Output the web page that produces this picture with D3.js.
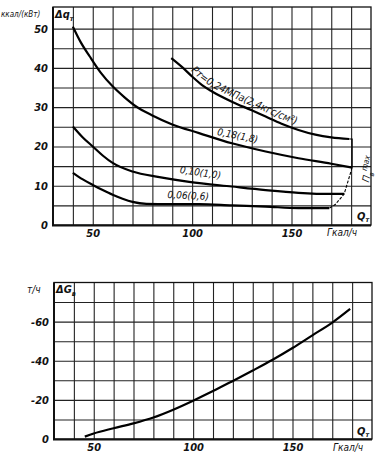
<!DOCTYPE html>
<html>
<head>
<meta charset="utf-8">
<script src="https://cdn.jsdelivr.net/npm/d3@7"></script>
<style>
  body { margin: 0; background: #fff; }
  text { font-family: "Liberation Sans Narrow", "DejaVu Sans Condensed", sans-serif; font-style: italic; fill: #111; }
</style>
</head>
<body>
<div id="chart"></div>
<script>
// ---- data ----
// top chart: heat-rate increase dq_t vs Q_t for several extraction pressures
var curve024 = [[89.5,42.5],[95,40.2],[100,37.8],[105,35.6],[110,34.0],[120,31.4],[130,29.2],[137,27.6],[145,25.8],[153.5,24.2],[162,23.0],[170,22.3],[179,21.9]];
var curve018 = [[40,50.5],[44,46.5],[48.5,42.9],[54,38.8],[60,35.3],[66,32.5],[72,30.1],[80,27.9],[90,25.6],[103.5,23.4],[120,20.8],[137,18.7],[153.5,17.0],[170,15.6],[180.5,14.6]];
var curve010 = [[40,25.1],[45,22.3],[50,20.0],[55,17.7],[60,15.8],[70,13.6],[83.5,12.2],[98.5,11.0],[120,9.8],[137,8.9],[153.5,8.2],[170,7.9],[176.5,7.9]];
var curve006 = [[40,13.3],[45,11.6],[50,10.2],[55,8.9],[60,7.7],[65,6.7],[70,5.9],[77,5.4],[88.5,5.3],[103.5,5.3],[120,5.0],[137,4.7],[153.5,4.3],[169,4.3]];
var boundaryTop = [[179,21.9],[180.5,21.9],[180.5,14.6]];
var boundaryMax = [[180.5,14.6],[176.5,7.9],[172,5.2],[169,4.3]];
var curveLabels = ["Pт=0,24МПа(2,4кгс/см²)", "0,18(1,8)", "0,10(1,0)", "0,06(0,6)"];

// bottom chart: steam flow change dG_v vs Q_t
var flowQ  = [45.5, 50, 60, 70, 80, 90, 100, 110, 120, 130, 140, 150, 160, 170, 179];
var flowDG = [1.2, 2.8, 5.5, 8.0, 11.0, 15.0, 19.6, 24.5, 29.7, 35.0, 40.5, 46.5, 53.0, 59.5, 66.5];

var xTicks = [50, 100, 150];
var gridX = [40, 50, 60, 70, 80, 90, 100, 110, 120, 130, 140, 150, 160, 170, 180];
var topYTicks = [0, 10, 20, 30, 40, 50];
var topGridY = [5, 10, 15, 20, 25, 30, 35, 40, 45, 50];
var botYTicks = [0, 20, 40, 60];
var botGridY = [10, 20, 30, 40, 50, 60, 70];

var tickFont = "'Liberation Sans Narrow','DejaVu Sans Condensed',sans-serif";

var svg = d3.select("#chart").append("svg")
  .attr("width", 382)
  .attr("height", 456)
  .style("background", "#fff");

// ---------- top chart ----------
var x1 = d3.scaleLinear().domain([30, 190]).range([53, 371]);
var y1 = d3.scaleLinear().domain([0, 55.5]).range([225, 7]);

var topG = svg.append("g");

// grid
topG.append("g")
  .attr("transform", "translate(0,225)")
  .call(d3.axisBottom(x1).tickValues(gridX).tickSize(-218).tickFormat(""))
  .call(g => g.select(".domain").remove())
  .selectAll("line").attr("stroke", "#222").attr("stroke-width", 1.1);
topG.append("g")
  .attr("transform", "translate(53,0)")
  .call(d3.axisLeft(y1).tickValues(topGridY).tickSize(-318).tickFormat(""))
  .call(g => g.select(".domain").remove())
  .selectAll("line").attr("stroke", "#222").attr("stroke-width", 1.1);

// frame
topG.append("rect")
  .attr("x", 53).attr("y", 7).attr("width", 318).attr("height", 218)
  .attr("fill", "none").attr("stroke", "#111").attr("stroke-width", 1.3);
topG.append("line").attr("x1", 53).attr("x2", 53).attr("y1", 7).attr("y2", 226)
  .attr("stroke", "#111").attr("stroke-width", 2);
topG.append("line").attr("x1", 52).attr("x2", 371).attr("y1", 225.5).attr("y2", 225.5)
  .attr("stroke", "#111").attr("stroke-width", 2);

// tick labels
topG.append("g")
  .attr("transform", "translate(53,0)")
  .call(d3.axisLeft(y1).tickValues(topYTicks).tickSize(0).tickPadding(5))
  .call(g => g.select(".domain").remove())
  .selectAll("text").attr("font-size", 11).attr("font-weight", "bold")
  .attr("font-family", tickFont);
topG.append("g")
  .attr("transform", "translate(0,226)")
  .call(d3.axisBottom(x1).tickValues(xTicks).tickSize(0).tickPadding(3))
  .call(g => g.select(".domain").remove())
  .selectAll("text").attr("font-size", 11).attr("font-weight", "bold")
  .attr("font-family", tickFont);

var line1 = d3.line()
  .x(d => x1(d[0]))
  .y(d => y1(d[1]))
  .curve(d3.curveMonotoneX);

[curve024, curve018, curve010, curve006].forEach(function(c) {
  topG.append("path").datum(c)
    .attr("d", line1)
    .attr("fill", "none").attr("stroke", "#000").attr("stroke-width", 2.2);
});

var straight1 = d3.line().x(d => x1(d[0])).y(d => y1(d[1]));
topG.append("path").datum(boundaryTop).attr("d", straight1)
  .attr("fill", "none").attr("stroke", "#000").attr("stroke-width", 1.2);
topG.append("path").datum(boundaryMax).attr("d", straight1)
  .attr("fill", "none").attr("stroke", "#000").attr("stroke-width", 1.1)
  .attr("stroke-dasharray", "3,1.5");

// label for the 0.24 curve follows the curve, sitting on it
var offsetLine = d3.line()
  .x(d => x1(d[0]))
  .y(d => y1(d[1]) - 4.5)
  .curve(d3.curveMonotoneX);
topG.append("path").datum(curve024)
  .attr("id", "p024")
  .attr("d", offsetLine)
  .attr("fill", "none").attr("stroke", "none");
topG.append("text")
  .attr("font-size", 10.5)
  .append("textPath")
  .attr("href", "#p024")
  .attr("startOffset", 26)
  .text(curveLabels[0]);

// other curve labels
var labelPos = [[237, 139, 11, 10], [200, 176, 8, 10], [188, 199, 3, 10]];
labelPos.forEach(function(p, i) {
  topG.append("text")
    .attr("transform", "translate(" + p[0] + "," + p[1] + ") rotate(" + p[2] + ")")
    .attr("text-anchor", "middle")
    .attr("font-size", p[3])
    .text(curveLabels[i + 1]);
});

// Pmax label
var pm = topG.append("text")
  .attr("transform", "translate(372,170) rotate(-76)")
  .attr("text-anchor", "middle")
  .attr("font-size", 10);
pm.append("tspan").text("П");
pm.append("tspan").attr("font-size", 7).attr("dy", 3).text("в");
pm.append("tspan").attr("font-size", 8).attr("dy", -8).text("max");

// axis titles
topG.append("text").attr("x", 1).attr("y", 17).attr("font-size", 8).text("ккал/(кВт)");
var dq = topG.append("text").attr("x", 55).attr("y", 18).attr("font-size", 11).attr("font-weight", "bold");
dq.append("tspan").text("Δq");
dq.append("tspan").attr("font-size", 7).attr("dy", 3).text("т");
var qt1 = topG.append("text").attr("x", 357).attr("y", 220).attr("font-size", 11).attr("font-weight", "bold");
qt1.append("tspan").text("Q");
qt1.append("tspan").attr("font-size", 7).attr("dy", 2).text("т");
topG.append("text").attr("x", 327).attr("y", 236).attr("font-size", 10).text("Гкал/ч");

// ---------- bottom chart ----------
var x2 = d3.scaleLinear().domain([30, 190]).range([54, 372]);
var y2 = d3.scaleLinear().domain([0, 80]).range([439, 282.5]);

var botG = svg.append("g");

botG.append("g")
  .attr("transform", "translate(0,439)")
  .call(d3.axisBottom(x2).tickValues(gridX).tickSize(-156.5).tickFormat(""))
  .call(g => g.select(".domain").remove())
  .selectAll("line").attr("stroke", "#222").attr("stroke-width", 1.1);
botG.append("g")
  .attr("transform", "translate(54,0)")
  .call(d3.axisLeft(y2).tickValues(botGridY).tickSize(-318).tickFormat(""))
  .call(g => g.select(".domain").remove())
  .selectAll("line").attr("stroke", "#222").attr("stroke-width", 1.1);

botG.append("rect")
  .attr("x", 54).attr("y", 282.5).attr("width", 318).attr("height", 156.5)
  .attr("fill", "none").attr("stroke", "#111").attr("stroke-width", 1.3);
botG.append("line").attr("x1", 54).attr("x2", 54).attr("y1", 282.5).attr("y2", 440)
  .attr("stroke", "#111").attr("stroke-width", 2);
botG.append("line").attr("x1", 53).attr("x2", 372).attr("y1", 439.5).attr("y2", 439.5)
  .attr("stroke", "#111").attr("stroke-width", 2);

botG.append("g")
  .attr("transform", "translate(54,0)")
  .call(d3.axisLeft(y2).tickValues(botYTicks).tickSize(0).tickPadding(5).tickFormat(d => d === 0 ? "0" : "-" + d))
  .call(g => g.select(".domain").remove())
  .selectAll("text").attr("font-size", 11).attr("font-weight", "bold")
  .attr("font-family", tickFont);
botG.append("g")
  .attr("transform", "translate(0,440)")
  .call(d3.axisBottom(x2).tickValues(xTicks).tickSize(0).tickPadding(3))
  .call(g => g.select(".domain").remove())
  .selectAll("text").attr("font-size", 11).attr("font-weight", "bold")
  .attr("font-family", tickFont);

var line2 = d3.line()
  .x((d, i) => x2(flowQ[i]))
  .y((d, i) => y2(flowDG[i]))
  .curve(d3.curveMonotoneX);
botG.append("path").datum(flowQ)
  .attr("d", line2)
  .attr("fill", "none").attr("stroke", "#000").attr("stroke-width", 2.2);

botG.append("text").attr("x", 27).attr("y", 293).attr("font-size", 10).text("т/ч");
var dg = botG.append("text").attr("x", 56).attr("y", 293).attr("font-size", 11).attr("font-weight", "bold");
dg.append("tspan").text("ΔG");
dg.append("tspan").attr("font-size", 7).attr("dy", 3).text("в");
var qt2 = botG.append("text").attr("x", 357).attr("y", 435).attr("font-size", 11).attr("font-weight", "bold");
qt2.append("tspan").text("Q");
qt2.append("tspan").attr("font-size", 7).attr("dy", 2).text("т");
botG.append("text").attr("x", 333).attr("y", 451).attr("font-size", 10).text("Гкал/ч");
</script>
</body>
</html>
